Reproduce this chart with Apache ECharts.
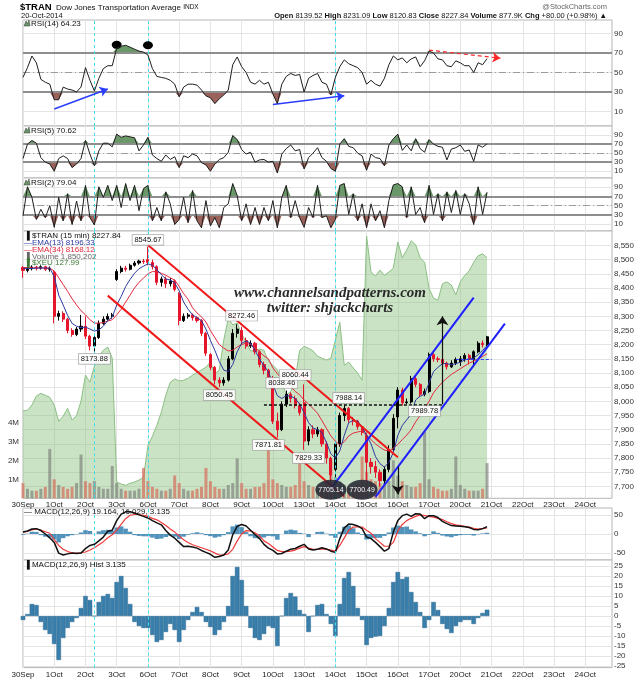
<!DOCTYPE html>
<html>
<head>
<meta charset="utf-8">
<script src="https://cdn.jsdelivr.net/npm/echarts@6.0.0/dist/echarts.min.js"></script>
<style>
html,body{margin:0;padding:0;background:#ffffff;}
#chart{width:640px;height:679px;}
</style>
</head>
<body>
<div id="chart"></div>
<script>
// ---------------- data (7 hourly slots per trading day) ----------------
const days = ['30Sep','1Oct','2Oct','3Oct','6Oct','7Oct','8Oct','9Oct','10Oct','13Oct','14Oct','15Oct','16Oct','17Oct','20Oct','21Oct','22Oct','23Oct','24Oct'];
const SLOTS_PER_DAY = 7;

// [open, close, low, high]
const ohlc = [
[8472,8462,8436,8478],[8462,8468,8455,8476],[8468,8474,8462,8480],[8474,8470,8462,8478],[8470,8475,8465,8480],[8475,8466,8460,8478],[8466,8470,8458,8476],
[8455,8300,8275,8462],[8300,8310,8285,8320],[8310,8290,8280,8318],[8290,8250,8240,8295],[8250,8236,8228,8258],[8236,8255,8230,8262],[8255,8265,8245,8305],
[8265,8230,8220,8300],[8230,8195,8180,8235],[8195,8225,8174,8235],[8225,8275,8220,8285],[8275,8290,8270,8300],[8290,8300,8285,8310],[8300,8305,8292,8312],
[8430,8458,8425,8466],[8458,8470,8452,8478],[8470,8466,8458,8478],[8466,8480,8462,8486],[8480,8488,8475,8495],[8488,8495,8482,8500],[8495,8493,8485,8502],
[8500,8490,8480,8546],[8490,8475,8465,8500],[8475,8420,8410,8480],[8420,8432,8405,8440],[8432,8415,8400,8440],[8415,8425,8405,8435],[8425,8395,8388,8430],
[8380,8285,8268,8385],[8285,8300,8280,8310],[8300,8305,8292,8312],[8305,8295,8285,8310],[8295,8285,8278,8300],[8285,8240,8230,8290],[8240,8170,8160,8245],
[8165,8120,8110,8170],[8120,8075,8060,8125],[8075,8065,8050,8085],[8065,8075,8055,8085],[8075,8150,8070,8160],[8150,8240,8145,8255],[8240,8255,8225,8272],
[8250,8215,8200,8262],[8215,8195,8185,8225],[8195,8205,8188,8215],[8205,8175,8165,8210],[8175,8130,8120,8180],[8130,8110,8095,8140],[8110,8085,8075,8115],
[8080,7930,7920,8090],[7930,7900,7872,7960],[7900,7990,7895,8000],[7990,8025,7980,8038],[8025,8010,7995,8032],[8010,7985,7975,8020],[7985,7960,7950,7995],
[7995,7860,7829,8060],[7860,7900,7845,7912],[7900,7885,7870,7915],[7885,7900,7875,7910],[7900,7850,7840,7905],[7850,7800,7780,7860],[7800,7740,7720,7805],
[7760,7850,7705,7860],[7850,7950,7840,7960],[7950,7975,7930,7988],[7975,7935,7925,7980],[7935,7930,7915,7945],[7930,7910,7900,7935],[7910,7890,7880,7915],
[7880,7785,7720,7890],[7785,7770,7745,7800],[7770,7750,7730,7790],[7750,7720,7700,7760],[7720,7760,7710,7770],[7760,7830,7750,7845],[7830,7940,7825,7955],
[7945,8040,7905,8050],[8040,7995,7985,8048],[7995,7998,7990,8010],[7998,8080,7992,8090],[8080,8060,8050,8093],[8060,8025,8015,8065],[8025,8035,8018,8045],
[8035,8165,8030,8172],[8165,8150,8140,8170],[8150,8148,8138,8158],[8148,8135,8125,8155],[8135,8122,8112,8140],[8122,8135,8118,8145],[8135,8148,8128,8155],
[8139.52,8150,8125,8160],[8150,8162,8140,8170],[8162,8148,8130,8168],[8148,8175,8120.83,8180],[8175,8205,8170,8212],[8205,8200,8190,8215],[8200,8227.84,8195,8231.09]
];

const ema13 = [
8470,8468,8469,8470,8471,8470,8470,
8440,8375,8340,8303,8275,8265,8260,
8262,8255,8248,8252,8265,8285,8297,
8340,8370,8405,8430,8452,8468,8477,
8485,8480,8465,8447,8432,8428,8418,
8390,8350,8325,8305,8295,8285,8255,
8215,8180,8140,8110,8105,8130,8175,
8205,8213,8205,8180,8150,8125,8105,
8060,8020,8010,8020,8018,8010,7990,
7960,7925,7906,7900,7890,7855,7815,
7800,7825,7880,7925,7933,7930,7910,
7880,7850,7805,7780,7768,7785,7820,
7880,7915,7935,7955,8005,8018,8025,
8065,8105,8120,8133,8133,8129,8133,
8138,8146,8150,8153,8165,8180,8196.33
];

const ema34 = [
8472,8472,8471,8471,8471,8470,8470,
8460,8436,8412,8388,8362,8340,8320,
8305,8288,8276,8276,8278,8283,8288,
8305,8325,8350,8375,8400,8420,8435,
8450,8458,8457,8452,8445,8436,8428,
8405,8380,8360,8330,8312,8298,8280,
8250,8225,8200,8188,8178,8180,8192,
8200,8206,8200,8190,8175,8160,8150,
8118,8098,8078,8065,8052,8035,8023,
8005,7990,7975,7958,7932,7905,7878,
7860,7846,7858,7878,7888,7892,7895,
7880,7865,7850,7838,7828,7825,7835,
7848,7865,7881,7900,7928,7950,7975,
8000,8030,8050,8068,8082,8095,8105,
8115,8125,8135,8142,8150,8158,8168.12
];

// volume, millions of shares
const volume = [
0.8,0.5,0.4,0.4,0.5,0.6,2.6,
1.0,0.7,0.6,0.5,0.6,0.8,2.3,
0.9,0.8,0.9,0.6,0.5,0.5,1.7,
0.8,0.5,0.4,0.4,0.4,0.5,1.6,
0.9,0.6,0.5,0.4,0.4,0.5,1.2,
0.8,0.5,0.4,0.4,0.5,0.6,1.6,
0.9,0.6,0.5,0.5,0.7,0.8,2.1,
0.8,0.5,0.5,0.6,0.6,0.8,2.6,
1.0,0.8,0.7,0.6,0.6,0.7,2.4,
0.9,0.7,0.6,0.5,0.6,0.8,2.0,
1.1,0.9,0.7,0.6,0.6,0.7,2.2,
1.4,1.0,0.9,0.8,0.8,0.9,2.0,
1.2,0.9,0.7,0.6,0.6,0.8,3.5,
1.0,0.6,0.5,0.4,0.4,0.5,2.2,
0.7,0.5,0.4,0.4,0.4,0.5,1.85
];

const xeu = [
125.64,125.65,125.73,125.87,125.91,125.88,125.85,
125.73,125.48,125.56,125.68,125.50,125.57,125.79,
126.19,126.08,126.33,126.48,126.57,126.62,126.45,
124.55,124.52,124.50,124.53,124.55,124.58,124.62,
125.11,125.25,125.42,125.62,125.88,126.08,126.13,
126.10,126.11,126.14,126.19,126.23,126.27,126.31,
126.39,126.20,126.27,126.73,127.06,126.96,126.99,
126.82,126.70,126.56,126.57,126.59,126.57,126.40,
126.34,126.27,126.11,125.88,125.94,126.11,126.57,
126.63,126.60,126.56,126.48,126.45,126.42,126.45,
126.73,127.00,126.34,126.39,126.30,126.22,126.11,
128.32,127.77,127.71,127.80,127.72,127.77,127.83,
128.23,127.99,128.11,128.25,128.19,127.99,127.92,
127.52,127.37,127.34,127.59,127.62,127.57,127.42,
127.62,127.72,127.79,127.92,128.02,128.05,127.99
];

const rsi14 = [
45,55,67,60,43,40,38,
22,22,35,33,32,30,35,
55,42,31,44,54,57,57,
75,77,78,76,74,72,71,
68,54,46,45,44,42,38,
25,35,38,38,37,32,26,
24,18,23,27,32,58,66,
56,50,40,38,42,38,40,
28,18,38,46,49,47,48,
30,44,47,49,40,38,27,
45,56,63,59,57,55,50,
38,42,38,36,44,58,67,
63,65,60,64,66,56,62,
72,70,64,63,57,56,62,
60,57,57,50,60,58,64.23
];

const rsi5 = [
38,70,78,72,40,30,26,
10,38,44,38,18,26,38,
78,48,22,55,72,72,64,
92,85,88,86,84,55,68,
85,46,38,32,46,36,42,
18,44,40,48,44,29,24,
10,26,36,40,52,89,80,
58,48,52,30,35,36,30,
32,6,48,60,68,55,58,
15,40,50,62,40,32,16,
10,70,82,65,62,50,44,
12,48,40,38,22,68,82,
92,56,68,55,82,60,52,
80,70,65,63,35,59,62,
68,54,57,32,68,63,70.62
];

const rsi2 = [
28,91,68,20,42,24,50,
3,68,17,76,9,60,17,
94,24,8,91,68,94,61,
94,46,98,61,94,39,87,
94,17,46,17,80,54,9,
20,68,13,83,17,2,61,
6,24,2,46,54,98,72,
17,54,9,46,9,46,17,
61,2,68,94,24,61,24,
3,46,24,94,24,28,2,
20,94,98,31,76,17,54,
2,54,17,39,2,61,95,
98,91,24,91,31,46,13,
94,31,76,17,80,35,83,
31,76,54,9,91,31,79.04
];

const macd = [
5,8,13,14,9,0,-10,
-22,-50,-55,-52,-50,-51,-50,
-38,-30,-27,-18,-8,7,10,
35,52,58,58,55,50,46,
42,35,29,24,9,-3,-11,
-22,-33,-32,-34,-37,-43,-48,
-53,-61,-59,-55,-42,-2,20,
25,21,10,-2,-12,-27,-37,
-43,-52,-51,-45,-40,-38,-32,
-27,-39,-42,-40,-36,-39,-45,
-48,-12,16,26,25,21,14,
-8,-12,-22,-33,-45,-38,5,
35,48,52,46,53,52,40,
48,48,43,33,27,22,21,
20,19,17,12,11,14,19.164
];

const signal = [
5,7,11,13,10,6,2,
-15,-30,-40,-46,-49,-50,-49,
-47,-42,-36,-28,-20,-10,-2,
10,25,40,49,51,51,49,
46,41,37,30,22,13,5,
-5,-15,-22,-28,-32,-36,-40,
-44,-50,-55,-55,-52,-40,-18,
0,9,8,3,-5,-18,-25,
-34,-43,-46,-46,-45,-42,-37,
-33,-37,-40,-40,-39,-40,-42,
-45,-30,-10,10,18,19,18,
10,2,-12,-22,-32,-32,-22,
8,25,35,41,46,50,48,
46,44,41,38,32,27,24,
22,20,18,15,13,14,16.029
];

const hist = [
-2,1,6,5.5,-3,-7,-9,
-14,-22,-11,-6,-3,-1,4,
10,8,0,7,10,11,9,
17,20,14,6,-3,-5,-6,
-6,-9.5,-13,-12,-8,-4,-7,
-13,-7,-2,2,4.5,2,-3,
-5.5,-9.5,-7,-3,5,20,24.5,
18,5,-6,-11,-12,-9,-5,
-6,-15,0,9,11.5,9.7,3,
1,-8,0,5.5,6,1,-4,
-10,6,19,22,15,4,-2,
-14.5,-11,-10.3,-10,-5,4,17,
22,18.5,19.5,12,7,2,-6,
-2,7,3,-4,-6.5,-8.5,-5,
-3,-2,-2,-4,-1,1.5,3.135
];

const priceTicks = [7700,7750,7800,7850,7900,7950,8000,8050,8100,8150,8200,8250,8300,8350,8400,8450,8500,8550];
const rsiTicks = [10,30,50,70,90];
const volumeTicks = [1,2,3,4];
const macdTicks = [-50,0,50];
const histTicks = [-25,-20,-15,-10,-5,0,5,10,15,20,25];

// ---------------- chart ----------------
const FONT = "'Liberation Sans', Arial, sans-serif";
const SERIF = "'Liberation Serif', serif";
const slots = Array.from({length: days.length * SLOTS_PER_DAY}, (_, i) => String(i));
const isDayStart = (i) => i % SLOTS_PER_DAY === 0;

const panels = [
  {top: 20, height: 106},
  {top: 126, height: 52},
  {top: 178, height: 53},
  {top: 231, height: 267.3},
  {top: 508, height: 52},
  {top: 560, height: 107.6}
];

const grid = panels.map(p => ({left: 23, width: 589, top: p.top, height: p.height, show: true,
  borderColor: '#b5b5b5', borderWidth: 1, backgroundColor: '#ffffff'}));

const xAxis = panels.map((p, gi) => ({
  type: 'category', gridIndex: gi, data: slots, boundaryGap: false,
  axisLine: {show: false}, axisTick: {show: false, interval: (i) => isDayStart(i)},
  axisLabel: {show: gi === 3 || gi === 5, interval: (i) => isDayStart(i), margin: gi === 3 ? 2 : 3,
    fontSize: 8, color: '#222', fontFamily: FONT,
    formatter: (v) => { const i = Number(v); return isDayStart(i) ? days[i / SLOTS_PER_DAY] : ''; }},
  splitLine: {show: true, interval: (i) => isDayStart(i), lineStyle: {color: '#e4e4e4', width: 1}}
}));

function rightAxis(gi, min, max, ticks) {
  return {type: 'value', gridIndex: gi, position: 'right', min: min, max: max,
    axisLine: {show: false}, axisTick: {show: false, customValues: ticks},
    axisLabel: {customValues: ticks, fontSize: 8, color: '#333', margin: 2, fontFamily: FONT},
    splitLine: {show: true, lineStyle: {color: '#e4e4e4', width: 1}}};
}

const yAxis = [
  rightAxis(0, -5, 104, rsiTicks),
  rightAxis(1, -5, 110, rsiTicks),
  rightAxis(2, -5, 110, rsiTicks),
  rightAxis(3, 7658, 8601, priceTicks),
  {type: 'value', gridIndex: 3, position: 'left', min: 0, max: 14.07,
    axisLine: {show: false}, axisTick: {show: false, customValues: volumeTicks},
    axisLabel: {customValues: volumeTicks, formatter: (v) => v + 'M', fontSize: 8, color: '#333', margin: 4, fontFamily: FONT},
    splitLine: {show: false}},
  {type: 'value', gridIndex: 3, show: false, min: 124.3, max: 128.4, splitLine: {show: false}},
  rightAxis(4, -68, 68, macdTicks),
  rightAxis(5, -25.8, 28, histTicks)
];

const cyanStyle = {color: '#3fdcec', type: [3, 3], width: 1};
const cyanLines = [16, 28, 70].map(s => ({xAxis: s, lineStyle: cyanStyle}));

function seg(a, b, style, endSymbol) {
  return [{coord: a, lineStyle: style, symbol: 'none'}, {coord: b, lineStyle: style, symbol: endSymbol || 'none'}];
}

function rsiSeries(gi, vals, extraLines, markPoint) {
  const lines = [
    {yAxis: 70, lineStyle: {color: '#8e8e8e', width: 2, type: 'solid'}},
    {yAxis: 30, lineStyle: {color: '#8e8e8e', width: 2, type: 'solid'}},
    {yAxis: 50, lineStyle: {color: '#9c9c9c', width: 1, type: [7, 3, 1, 3]}}
  ].concat(cyanLines).concat(extraLines || []);
  const main = {type: 'line', xAxisIndex: gi, yAxisIndex: gi, data: vals, symbol: 'none',
    lineStyle: {color: '#1e1e1e', width: 1}, z: 5, silent: true, clip: false,
    markLine: {silent: true, symbol: ['none', 'none'], symbolSize: 8, label: {show: false}, animation: false, data: lines}};
  if (markPoint) main.markPoint = markPoint;
  return [
    {type: 'line', xAxisIndex: gi, yAxisIndex: gi, data: vals.map(v => Math.max(v, 70)), symbol: 'none',
      lineStyle: {width: 0, opacity: 0}, areaStyle: {origin: 70, color: '#6a9868', opacity: 1}, silent: true, z: 3},
    {type: 'line', xAxisIndex: gi, yAxisIndex: gi, data: vals.map(v => Math.min(v, 30)), symbol: 'none',
      lineStyle: {width: 0, opacity: 0}, areaStyle: {origin: 30, color: '#9b625b', opacity: 1}, silent: true, z: 3},
    main
  ];
}

const blue = {color: '#2a3cff', width: 1.5, type: 'solid'};
const redDash = {color: '#ff2a2a', width: 1.2, type: [4, 3]};
const rsi14Lines = [
  seg([7, 12.5], [19, 33], blue, 'arrow'),
  seg([56, 17], [72, 26], blue, 'arrow'),
  seg([91, 73], [107, 64.7], redDash, 'arrow')
];
const rsi14Points = {symbol: 'circle', symbolSize: [10, 8], itemStyle: {color: '#000'}, label: {show: false}, silent: true,
  data: [{coord: [21, 78.5]}, {coord: [28, 78]}]};

const redLine = {color: '#f01818', width: 2, type: 'solid'};
const blueLine = {color: '#1f1fff', width: 2, type: 'solid'};
const blackDash = {color: '#111', width: 1.5, type: [3, 2]};
const blackArrow = {color: '#111', width: 1.2, type: 'solid'};
const mainLines = cyanLines.concat([
  seg([28, 8552], [84, 7803], redLine),
  seg([19, 8373], [72, 7664], redLine),
  seg([69, 7691], [101, 8366], blueLine),
  seg([79, 7663], [108, 8274], blueLine),
  seg([54, 7988], [94, 7988], blackDash),
  seg([94, 7990], [94, 8300], blackArrow, 'arrow'),
  seg([84, 7770], [84, 7672], blackArrow, 'arrow'),
  seg([97, 8150], [105, 8150], {color: '#2a3cff', width: 1, type: [3, 2]})
]);

const priceLabelStyle = {show: true, position: 'inside', formatter: (p) => p.name, fontSize: 7.5, color: '#111',
  fontFamily: FONT, backgroundColor: 'rgba(255,255,255,0.9)', borderColor: '#9a9a9a', borderWidth: 0.6, padding: [1, 2]};
const priceLabels = {symbol: 'rect', symbolSize: 1, itemStyle: {color: 'rgba(0,0,0,0)'}, label: priceLabelStyle, silent: true,
  data: [
    {name: '8545.67', coord: [28, 8570]},
    {name: '8173.88', coord: [16, 8150]},
    {name: '8050.45', coord: [44, 8022]},
    {name: '8272.46', coord: [49, 8302]},
    {name: '8038.46', coord: [58, 8065]},
    {name: '8060.44', coord: [61, 8093]},
    {name: '7871.81', coord: [55, 7846]},
    {name: '7829.33', coord: [64, 7800]},
    {name: '7988.14', coord: [73, 8012]},
    {name: '7989.78', coord: [90, 7966]}
  ]};
const lowCircles = {symbol: 'circle', symbolSize: [31, 20], itemStyle: {color: 'rgba(38,40,52,0.88)'}, silent: true,
  label: {show: true, position: 'inside', formatter: (p) => p.name, fontSize: 7, color: '#fff', fontFamily: FONT},
  data: [{name: '7705.14', coord: [69, 7688]}, {name: '7700.49', coord: [76, 7688]}]};

const series = [].concat(
  rsiSeries(0, rsi14, rsi14Lines, rsi14Points),
  rsiSeries(1, rsi5),
  rsiSeries(2, rsi2),
  [
    {type: 'line', name: '$XEU', xAxisIndex: 3, yAxisIndex: 5, data: xeu, symbol: 'none', silent: true, z: 1,
      lineStyle: {color: '#8cc085', width: 1}, areaStyle: {origin: 'start', color: 'rgba(140,195,128,0.66)'}},
    {type: 'bar', name: 'Volume', xAxisIndex: 3, yAxisIndex: 4, data: volume, barWidth: 3, silent: true, z: 2,
      itemStyle: {color: (p) => ohlc[p.dataIndex][1] >= ohlc[p.dataIndex][0] ? 'rgba(115,115,115,0.6)' : 'rgba(214,108,92,0.7)'}},
    {type: 'candlestick', name: '$TRAN', xAxisIndex: 3, yAxisIndex: 3, data: ohlc, barWidth: 2.6, silent: true, z: 3,
      itemStyle: {color: '#000', color0: '#e5162b', borderColor: '#000', borderColor0: '#e5162b', borderWidth: 1},
      markPoint: priceLabels},
    {type: 'line', name: 'EMA(34)', xAxisIndex: 3, yAxisIndex: 3, data: ema34, symbol: 'none', silent: true, z: 4,
      lineStyle: {color: '#e4283f', width: 1}, markPoint: lowCircles},
    {type: 'line', name: 'EMA(13)', xAxisIndex: 3, yAxisIndex: 3, data: ema13, symbol: 'none', silent: true, z: 4, clip: false,
      lineStyle: {color: '#2c3a9e', width: 1},
      markLine: {silent: true, symbol: ['none', 'none'], symbolSize: 9, label: {show: false}, animation: false, data: mainLines}},
    {type: 'bar', xAxisIndex: 4, yAxisIndex: 6, data: hist, barWidth: 4.5, silent: true, z: 2,
      itemStyle: {color: 'rgba(52,128,176,0.85)'}},
    {type: 'line', xAxisIndex: 4, yAxisIndex: 6, data: signal, symbol: 'none', silent: true, z: 3,
      lineStyle: {color: '#f03a3a', width: 1.2}},
    {type: 'line', xAxisIndex: 4, yAxisIndex: 6, data: macd, symbol: 'none', silent: true, z: 4,
      lineStyle: {color: '#111', width: 1.5},
      markLine: {silent: true, symbol: ['none', 'none'], label: {show: false}, animation: false, data: cyanLines}},
    {type: 'bar', xAxisIndex: 5, yAxisIndex: 7, data: hist, barWidth: 4.5, silent: true, z: 2,
      itemStyle: {color: '#3a7fab', borderColor: '#215f88', borderWidth: 0.4},
      markLine: {silent: true, symbol: ['none', 'none'], label: {show: false}, animation: false, data: cyanLines}}
  ]
);

function txt(x, y, text, opts) {
  const o = opts || {};
  const style = {text: text, fill: o.fill || '#111',
    font: (o.italic ? 'italic ' : '') + (o.bold ? 'bold ' : '') + (o.size || 8) + 'px ' + (o.family || FONT),
    align: o.align || 'left', verticalAlign: 'middle'};
  if (o.rich) style.rich = o.rich;
  return {type: 'text', x: x, y: y, silent: true, z: 50, style: style};
}
function icon(x, y, color) {
  return {type: 'polygon', silent: true, z: 50,
    shape: {points: [[x, y + 3], [x + 2, y - 2], [x + 3.5, y + 0.5], [x + 5, y - 3], [x + 6, y + 3]]},
    style: {fill: color, stroke: '#333', lineWidth: 0.5}};
}

const graphic = [
  txt(20, 7, '$TRAN', {bold: true, size: 9.5, fill: '#000'}),
  txt(56, 7.5, '{a|Dow Jones Transportation Average} {s|INDX}', {size: 8, rich: {a: {fontSize: 8, fontFamily: FONT}, s: {fontSize: 6.5, fontFamily: FONT}}}),
  txt(607, 7, '@StockCharts.com', {size: 7.5, fill: '#666', align: 'right'}),
  txt(21, 16, '20-Oct-2014', {size: 7.5}),
  txt(607, 16, '{b|Open} 8139.52 {b|High} 8231.09 {b|Low} 8120.83 {b|Close} 8227.84 {b|Volume} 877.9K {b|Chg} +80.00 (+0.98%) \u25B2',
    {size: 7.5, align: 'right', rich: {b: {fontWeight: 'bold', fontSize: 7.5, fontFamily: FONT}}}),
  icon(24, 23, '#6a9868'), txt(31, 23.5, 'RSI(14) 64.23'),
  icon(24, 130, '#6a9868'), txt(31, 130.5, 'RSI(5) 70.62'),
  icon(24, 182, '#6a9868'), txt(31, 182.5, 'RSI(2) 79.04'),
  txt(24, 235.5, '\u2590 $TRAN (15 min) 8227.84', {fill: '#111'}),
  txt(24, 243, '\u2014EMA(13) 8196.33', {fill: '#2c3a9e'}),
  txt(24, 250, '\u2014EMA(34) 8168.12', {fill: '#e4283f'}),
  txt(24, 256.5, '\u2590 Volume 1,850,202', {fill: '#666'}),
  txt(24, 263, '\u2590 $XEU 127.99', {fill: '#3c7a34'}),
  txt(330, 293, 'www.channelsandpatterns.com', {size: 15, italic: true, bold: true, align: 'center', family: SERIF, fill: '#2a2a2a'}),
  txt(330, 308, 'twitter: shjackcharts', {size: 15, italic: true, bold: true, align: 'center', family: SERIF, fill: '#2a2a2a'}),
  txt(24, 512, '{k|\u2014 MACD(12,26,9) 19.164}{r|, 16.029}{p|, 3.135}', {rich: {
    k: {fontSize: 8, fontFamily: FONT, color: '#111'}, r: {fontSize: 8, fontFamily: FONT, color: '#f03a3a'}, p: {fontSize: 8, fontFamily: FONT, color: '#8a8fd8'}}}),
  txt(24, 565, '\u2590 MACD(12,26,9) Hist 3.135')
];

const chart = echarts.init(document.getElementById('chart'), null, {renderer: 'canvas'});
chart.setOption({
  animation: false,
  backgroundColor: '#ffffff',
  textStyle: {fontFamily: FONT},
  grid: grid,
  xAxis: xAxis,
  yAxis: yAxis,
  series: series,
  graphic: graphic
});
</script>
</body>
</html>
